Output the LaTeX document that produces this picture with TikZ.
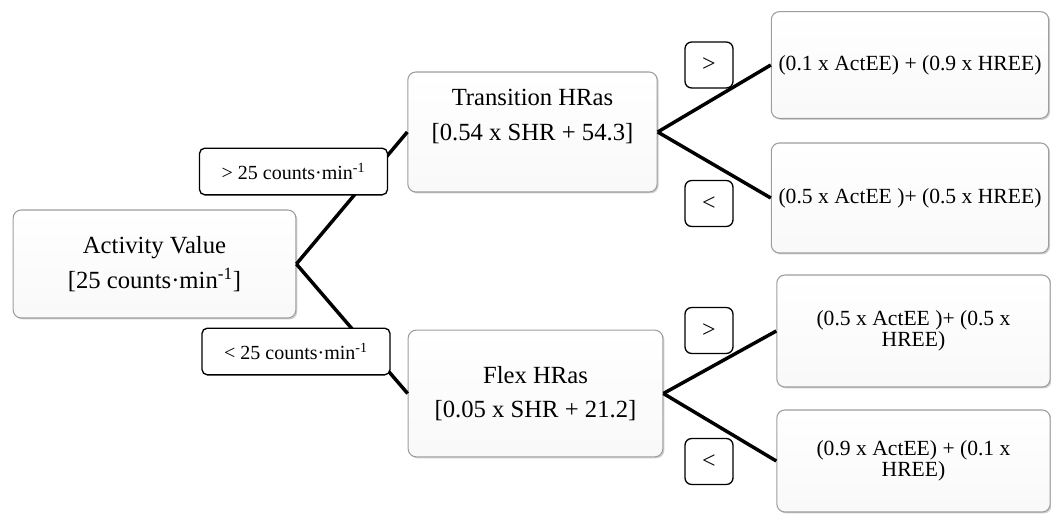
\documentclass[tikz,border=0pt]{standalone}
\usepackage{fontspec}
\setmainfont{Liberation Serif}
\usetikzlibrary{positioning,shadows}
\definecolor{boxgray}{gray}{0.62}

\begin{document}
\begin{tikzpicture}[x=0.75pt, y=-0.75pt, line width=2.6pt,
	box/.style={rectangle, rounded corners=6pt, draw=boxgray, line width=0.8pt, top color=white, bottom color=gray!5, drop shadow={shadow xshift=1.1pt, shadow yshift=-1.1pt, fill=gray!75}, align=center, inner sep=2pt},
	midbox/.style={box, minimum width=190pt, minimum height=92pt, font=\fontsize{18.5}{26}\selectfont},
	outbox/.style={box, minimum width=208pt, minimum height=80pt, font=\fontsize{16.2}{15.5}\selectfont},
	tag/.style={rectangle, rounded corners=4pt, draw, line width=1pt, fill=white, minimum width=141pt, minimum height=35pt, font=\fontsize{15}{15}\selectfont},
	sign/.style={rectangle, rounded corners=5pt, draw, line width=1pt, fill=white, minimum width=36pt, minimum height=34.5pt, font=\fontsize{18}{18}\selectfont}]
	\useasboundingbox (0,0) rectangle (1051,514);
	\node[midbox, minimum width=212pt, minimum height=81pt] (act) at (154.5,264) {Activity Value\\{}[25 counts·min\textsuperscript{-1}]};
	\node[midbox, minimum width=187pt, minimum height=90pt] (trans) at (532.5,132) {Transition HRas\\{}[0.54 x SHR + 54.3]\\\mbox{}};
	\node[midbox, minimum width=191pt, minimum height=95pt] (flex) at (535.5,393.5) {Flex HRas\\{}[0.05 x SHR + 21.2]};
	\node[outbox] (hi1) at (910,65) {(0.1 x ActEE) + (0.9 x HREE)};
	\node[outbox, minimum height=82.5pt] (lo1) at (910,198) {(0.5 x ActEE )+ (0.5 x HREE)};
	\node[outbox, minimum width=205pt, minimum height=84pt] (hi2) at (913.5,331) {(0.5 x ActEE )+ (0.5 x\\HREE)};
	\node[outbox, minimum width=205pt, minimum height=76.5pt] (lo2) at (913.5,461) {(0.9 x ActEE) + (0.1 x\\HREE)};
	\node[sign] (gt1) at (709,65) {>};
	\node[sign] (lt1) at (709,203.5) {<};
	\node[sign] (gt2) at (709,330.5) {>};
	\node[sign] (lt2) at (709,461.5) {<};
	\draw (act.east) -- (trans.west);
	\draw (act.east) -- (flex.west);
	\draw (trans.east) -- (hi1.west);
	\draw (trans.east) -- (lo1.west);
	\draw (flex.east) -- (hi2.west);
	\draw (flex.east) -- (lo2.west);
	\node[tag] (above) at (293.5,171.5) {> 25 counts·min\textsuperscript{-1}};
	\node[tag] (below) at (296,351.5) {< 25 counts·min\textsuperscript{-1}};
\end{tikzpicture}
\end{document}
